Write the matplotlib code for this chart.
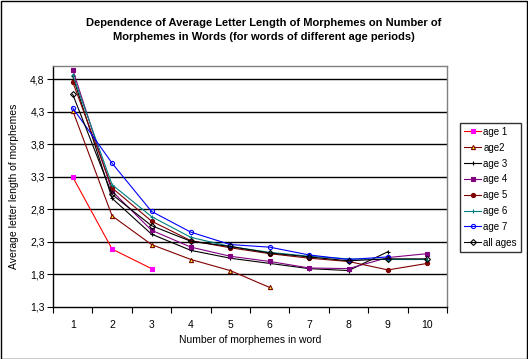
import numpy as np
import matplotlib.pyplot as plt
from matplotlib.patches import Rectangle

plt.rcParams['font.family'] = ['Liberation Sans', 'DejaVu Sans']

# number of morphemes in word (categories)
cats = [1, 2, 3, 4, 5, 6, 7, 8, 9, 10]

age1 = [3.30, 2.19, 1.89]
age2 = [4.32, 2.70, 2.26, 2.03, 1.86, 1.60]
age3 = [4.85, 2.97, 2.42, 2.17, 2.05, 1.97, 1.89, 1.86, 2.15]
age4 = [4.95, 3.08, 2.48, 2.22, 2.08, 2.00, 1.90, 1.89, 2.06, 2.12]
age5 = [4.76, 3.13, 2.62, 2.32, 2.21, 2.12, 2.05, 2.00, 1.87, 1.97]
age6 = [4.87, 3.18, 2.69, 2.37, 2.23, 2.14, 2.08, 2.04, 2.03, 2.03]
age7 = [4.36, 3.51, 2.77, 2.45, 2.26, 2.22, 2.10, 2.03, 2.07]
all_ages = [4.57, 3.03, 2.55, 2.31, 2.23, 2.13, 2.07, 2.01, 2.04, 2.04]

yticks = [1.3, 1.8, 2.3, 2.8, 3.3, 3.8, 4.3, 4.8]

series = [
    ('age 1', age1, '#ff0000', 's', '#ff00ff', '#ff00ff'),
    ('age2', age2, '#800000', '^', '#ffff00', '#800000'),
    ('age 3', age3, '#000000', '+', 'none', '#000000'),
    ('age 4', age4, '#800080', 's', '#800080', '#800080'),
    ('age 5', age5, '#800000', 'o', '#800000', '#800000'),
    ('age 6', age6, '#008080', '+', 'none', '#008080'),
    ('age 7', age7, '#0000ff', 'o', 'none', '#0000ff'),
    ('all ages', all_ages, '#000000', 'D', 'none', '#000000'),
]

fig = plt.figure(figsize=(5.28, 3.59), dpi=100)
ax = fig.add_axes([53/528, 52/359, 394/528, (307-66.3)/359])

for name, vals, col, mk, fc, ec in series:
    ax.plot(cats[:len(vals)], vals, color=col, lw=0.8, marker=mk,
            markersize=3, markerfacecolor=fc, markeredgecolor=ec,
            markeredgewidth=0.8, label=name)

ax.set_xlim(0.5, 10.5)
ax.set_ylim(1.3, 5.0)
ax.set_yticks(yticks)
ax.set_yticklabels([('%.1f' % v).replace('.', ',') for v in yticks], fontsize=7.5)
ax.set_xticks(cats)
ax.set_xticklabels([str(c) for c in cats], fontsize=7.5)
ax.set_xticks(np.arange(0.5, 11, 1), minor=True)
ax.tick_params(axis='x', which='major', length=0, pad=9)
ax.tick_params(axis='x', which='minor', length=4, width=0.8, direction='out')
ax.tick_params(axis='y', length=4, width=0.8, direction='out', pad=2)

# horizontal gridlines
for v in yticks[1:]:
    ax.axhline(v, color='black', lw=1.0, zorder=0)

ax.spines['top'].set_color('#808080')
ax.spines['right'].set_color('#808080')
for s in ax.spines.values():
    s.set_linewidth(1.0)

ax.set_xlabel('Number of morphemes in word', fontsize=7.5, labelpad=4)
ax.set_ylabel('Average letter length of morphemes', fontsize=7.5, labelpad=8)

fig.text(0.5, 0.95, 'Dependence of Average Letter Length of Morphemes on Number of\n'
         'Morphemes in Words (for words of different age periods)',
         ha='center', va='top', fontsize=8, fontweight='bold', linespacing=1.5)

leg = fig.legend(loc='upper left', bbox_to_anchor=(460/528, 1 - 123/359),
                 fontsize=7, frameon=True, fancybox=False, handlelength=1.8,
                 handletextpad=0.2, borderpad=0.4, labelspacing=0.6,
                 borderaxespad=0)
leg.get_frame().set_edgecolor('black')
leg.get_frame().set_linewidth(1.0)

# chart border
fig.patches.append(Rectangle((0.001, 0.001), 0.997, 0.997, transform=fig.transFigure,
                             fill=False, edgecolor='black', lw=1.0))

fig.savefig('out.png', dpi=100)
